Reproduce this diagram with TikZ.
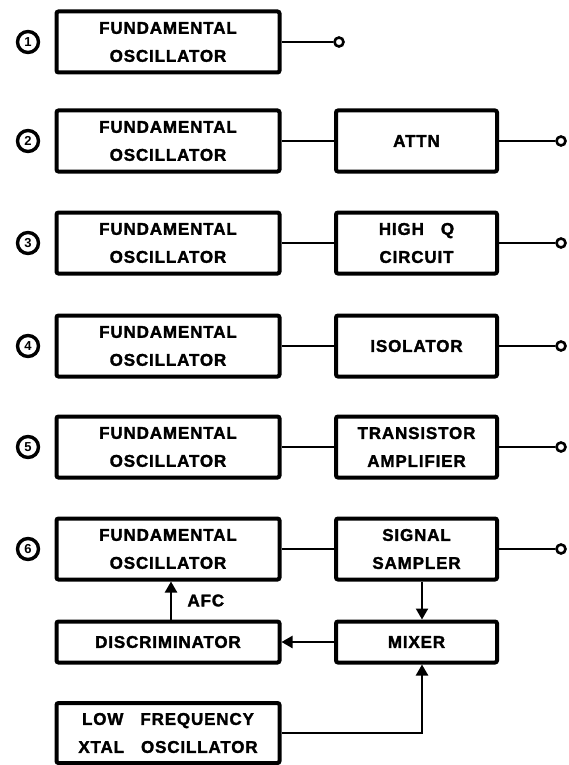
\documentclass[tikz,border=0pt]{standalone}
\usepackage{fontspec}
\setmainfont{Liberation Sans}
\newfontfamily\heavyfont{Liberation Sans}[FakeBold=1.8]
\usetikzlibrary{arrows.meta}
\begin{document}
\begin{tikzpicture}[x=1pt,y=-1pt,
  lbl/.style={font=\heavyfont\bfseries\fontsize{17}{28}\selectfont\addfontfeature{LetterSpace=5}},
  blk/.style={draw, line width=4pt, rounded corners=2pt, inner sep=0pt, lbl, align=center},
  wideblk/.style={blk, minimum width=223pt, minimum height=61pt},
  narrowblk/.style={blk, minimum width=161pt, minimum height=61pt},
  wire/.style={line width=2.3pt},
  term/.style={circle, draw, line width=2.6pt, minimum size=9pt, inner sep=0pt, fill=white},
  num/.style={circle, draw, line width=3.4pt, minimum size=21pt, inner sep=0pt, font=\bfseries\fontsize{13}{13}\selectfont},
  arr/.style={wire, -{Triangle[length=11pt,width=12pt]}}
]
\useasboundingbox (0,0) rectangle (568,765);

% row 1
\node[num] (n1) at (28,42) {1};
\node[wideblk] (fo1) at (168,42) {FUNDAMENTAL\\OSCILLATOR};
\node[term] (t1) at (339,42) {};
\draw[wire] (fo1.east) -- (t1.west);

% row 2
\node[num] (n2) at (28,141) {2};
\node[wideblk] (fo2) at (168,141) {FUNDAMENTAL\\OSCILLATOR};
\node[narrowblk] (b2) at (416.5,141) {ATTN};
\node[term] (t2) at (561,141) {};
\draw[wire] (fo2.east) -- (b2.west);
\draw[wire] (b2.east) -- (t2.west);

% row 3
\node[num] (n3) at (28,243) {3};
\node[wideblk] (fo3) at (168,243) {FUNDAMENTAL\\OSCILLATOR};
\node[narrowblk] (b3) at (416.5,243) {HIGH\quad Q\\CIRCUIT};
\node[term] (t3) at (561,243) {};
\draw[wire] (fo3.east) -- (b3.west);
\draw[wire] (b3.east) -- (t3.west);

% row 4
\node[num] (n4) at (28,346) {4};
\node[wideblk] (fo4) at (168,346) {FUNDAMENTAL\\OSCILLATOR};
\node[narrowblk] (b4) at (416.5,346) {ISOLATOR};
\node[term] (t4) at (561,346) {};
\draw[wire] (fo4.east) -- (b4.west);
\draw[wire] (b4.east) -- (t4.west);

% row 5
\node[num] (n5) at (28,447) {5};
\node[wideblk] (fo5) at (168,447) {FUNDAMENTAL\\OSCILLATOR};
\node[narrowblk] (b5) at (416.5,447) {TRANSISTOR\\AMPLIFIER};
\node[term] (t5) at (561,447) {};
\draw[wire] (fo5.east) -- (b5.west);
\draw[wire] (b5.east) -- (t5.west);

% row 6
\node[num] (n6) at (28,549) {6};
\node[wideblk] (fo6) at (168,549) {FUNDAMENTAL\\OSCILLATOR};
\node[narrowblk] (ss) at (416.5,549) {SIGNAL\\SAMPLER};
\node[term] (t6) at (561,549) {};
\draw[wire] (fo6.east) -- (ss.west);
\draw[wire] (ss.east) -- (t6.west);

\node[blk, minimum width=223pt, minimum height=41pt] (disc) at (168,642) {DISCRIMINATOR};
\node[blk, minimum width=161pt, minimum height=41pt] (mix) at (416.5,642) {MIXER};
\node[wideblk, minimum height=60pt] (xt) at (168,733) {LOW\quad FREQUENCY\\XTAL\quad OSCILLATOR};

\coordinate (tap) at (422,0);
\coordinate (afc) at (171,0);
\draw[arr] (ss.south -| tap) -- (mix.north -| tap);
\draw[arr] (mix.west) -- (disc.east);
\draw[arr] (disc.north -| afc) -- node[lbl, right=12pt] (afclbl) {AFC} (fo6.south -| afc);
\draw[arr] (xt.east) -| (mix.south -| tap);
\end{tikzpicture}
\end{document}
